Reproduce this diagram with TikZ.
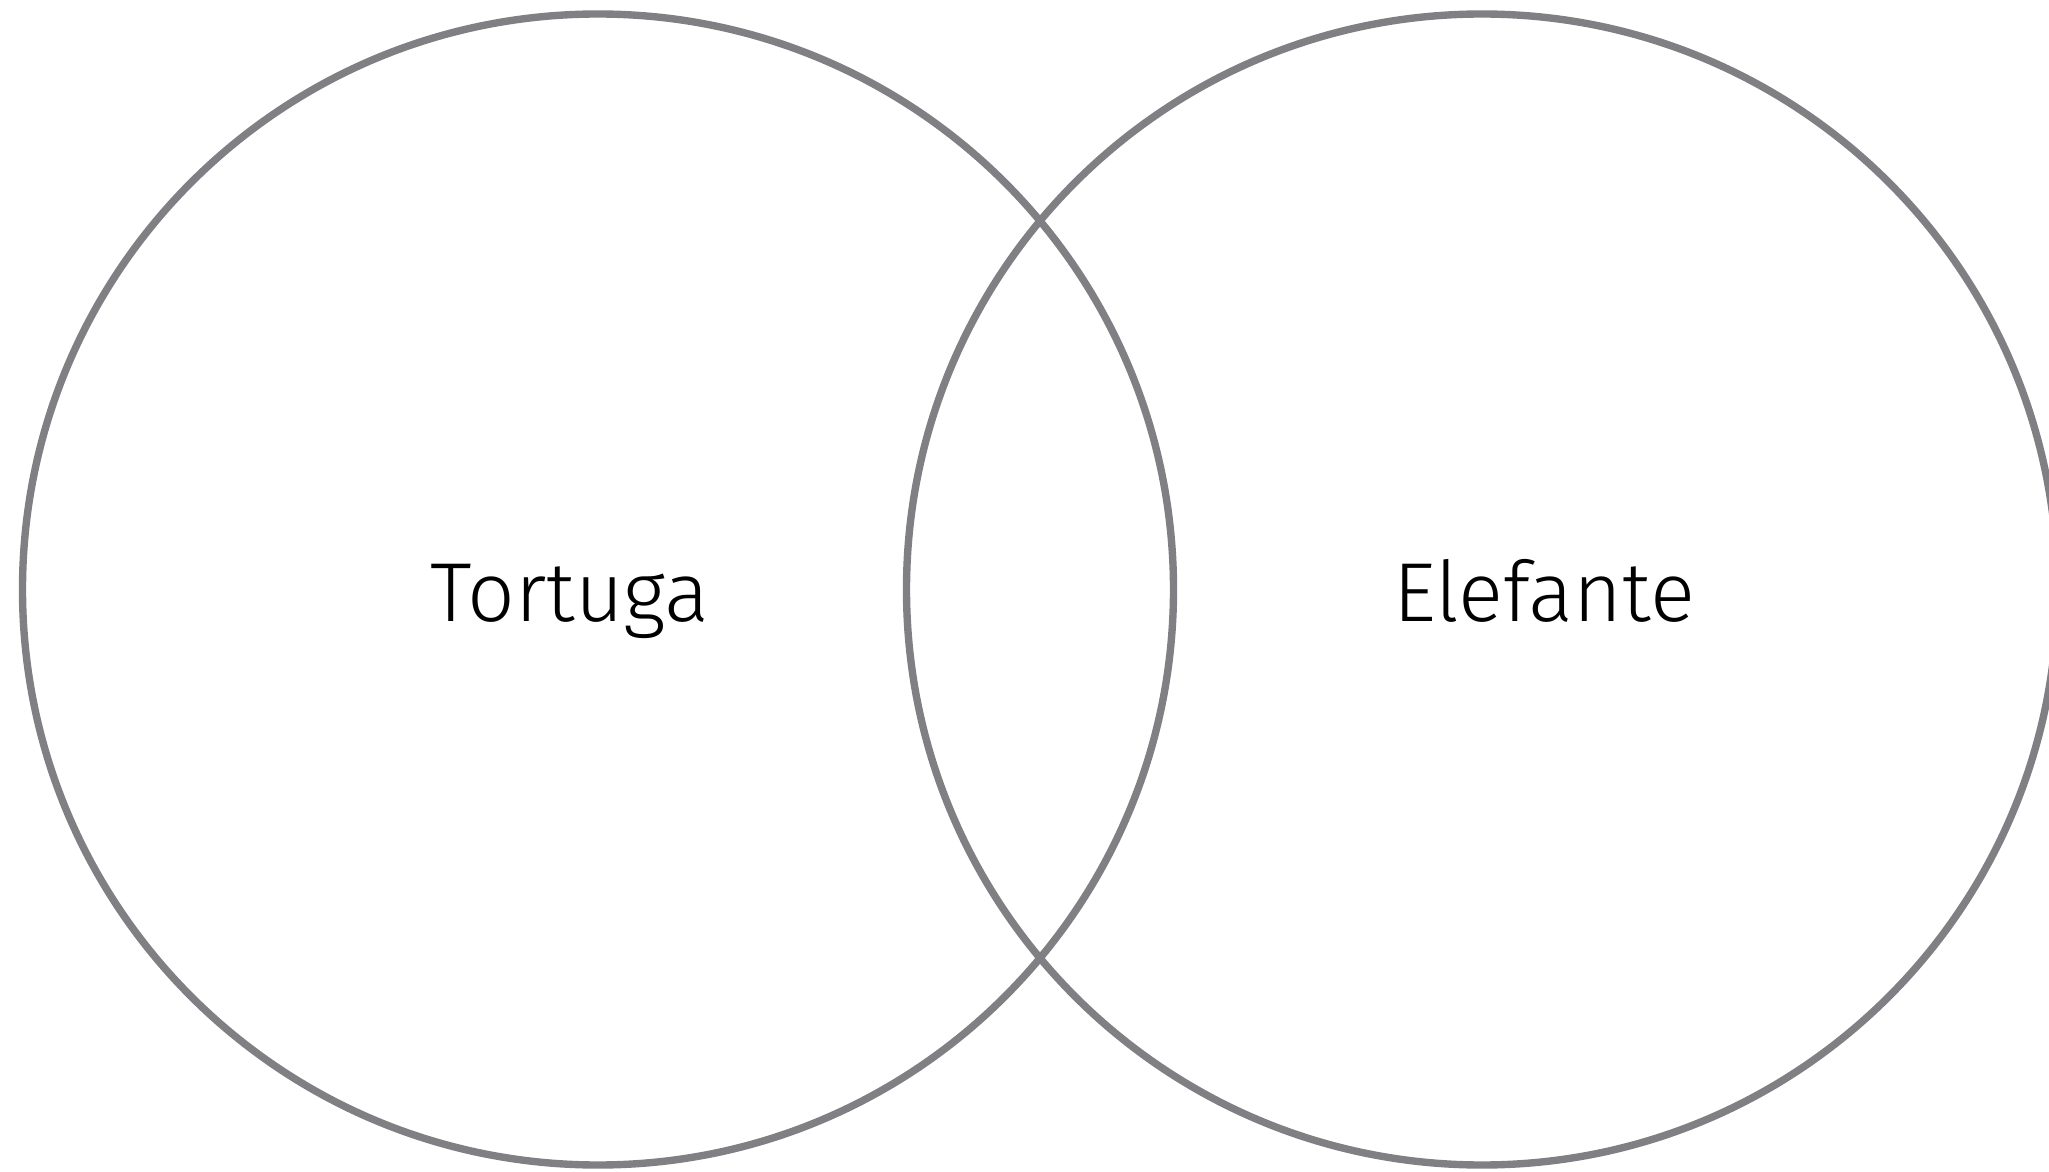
\documentclass[tikz,border=0pt]{standalone}
\usepackage{fontspec}
\setmainfont{Fira Sans Light}
\begin{document}
\begin{tikzpicture}[x=1cm,y=1cm,font=\rmfamily\fontsize{23.8}{28}\selectfont]
  \definecolor{vborder}{HTML}{808084}
  \path[use as bounding box] (0,0) rectangle (20.49,11.71);
  \clip (0,0) rectangle (20.49,11.71);
  \foreach \x/\tx/\title/\id in {
    5.98/5.70/{Tortuga}/tortuga,
    14.82/15.44/{Elefante}/elefante
  }{
    \node[draw=vborder,line width=2.1pt,circle,inner sep=0pt,
      minimum size=11.51cm] (c\id) at (\x,5.815) {};
    \node[anchor=base,inner sep=0pt] (t\id) at (\tx,5.50) {\title};
  }
\end{tikzpicture}
\end{document}
